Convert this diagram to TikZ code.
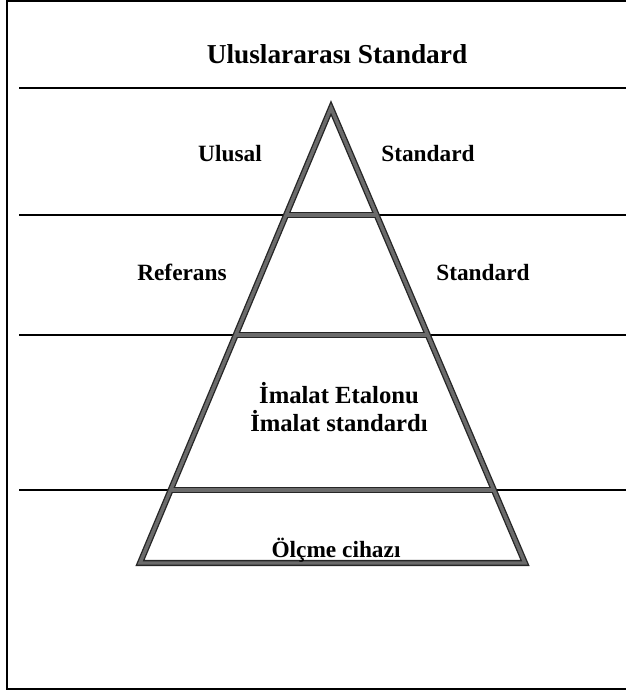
\documentclass[tikz,border=0pt]{standalone}
\usepackage{fontspec}
\setmainfont{Liberation Serif}
\usetikzlibrary{calc}

\begin{document}
\begin{tikzpicture}[
    x=0.75pt, y=-0.75pt,
    level/.style={anchor=base,font=\fontsize{17.5}{20}\selectfont\bfseries},
    bigger/.style={font=\fontsize{18.5}{21}\selectfont\bfseries},
    title/.style={anchor=base,font=\fontsize{20.5}{24}\selectfont\bfseries},
    rule/.style={black,line width=1.3},
    frame/.style={black,line width=1.5},
    bar/.style={black!85,line width=4.6,line join=miter},
    barcore/.style={black!58,line width=2.6,line join=miter}
]
\useasboundingbox (0,0) rectangle (626,694);
% frame (open on the right)
\draw[frame] (626,1) -- (7,1) -- (7,689) -- (626,689);
% band rules
\foreach \yy in {88,215,335,490}
  \draw[rule] (19,\yy) -- (626,\yy);
% pyramid
\coordinate (apex) at (331,108);
\coordinate (baseL) at (140,563);
\coordinate (baseR) at (525,563);
\coordinate (l1) at ($(apex)!0.2352!(baseL)$);
\coordinate (r1) at ($(apex)!0.2352!(baseR)$);
\coordinate (l2) at ($(apex)!0.4989!(baseL)$);
\coordinate (r2) at ($(apex)!0.4989!(baseR)$);
\coordinate (l3) at ($(apex)!0.8396!(baseL)$);
\coordinate (r3) at ($(apex)!0.8396!(baseR)$);
\foreach \st in {bar,barcore}{
  \draw[\st] (apex) -- (baseL) -- (baseR) -- cycle;
  \draw[\st] (l1) -- (r1);
  \draw[\st] (l2) -- (r2);
  \draw[\st] (l3) -- (r3);
}
% labels
\node[title] (intl) at (337,63) {Uluslararası Standard};
\node[level] (natL) at (230,161) {Ulusal};
\node[level] (natR) at (428,161) {Standard};
\node[level] (refL) at (182,280) {Referans};
\node[level] (refR) at (483,280) {Standard};
\node[level,bigger] (manu1) at (339,403) {İmalat Etalonu};
\node[level,bigger] (manu2) at (339,431) {İmalat standardı};
\node[level] (meas) at (336,557) {Ölçme cihazı};
\end{tikzpicture}
\end{document}
